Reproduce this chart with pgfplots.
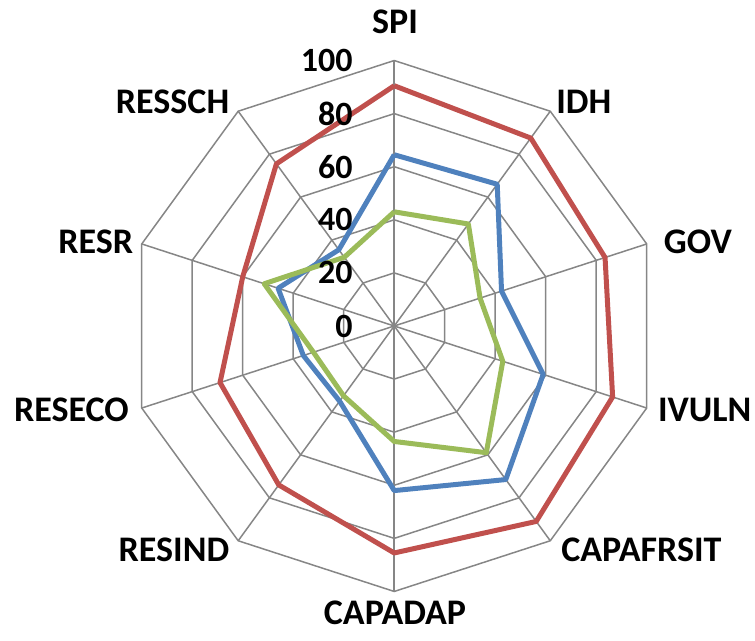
\documentclass[border=0pt]{standalone}
\usepackage{fontspec}
\setmainfont{Carlito}
\usepackage{pgfplots}
\pgfplotsset{compat=1.18}
\definecolor{serA}{HTML}{4F81BD}
\definecolor{serB}{HTML}{C0504D}
\definecolor{serC}{HTML}{9BBB59}
\definecolor{gridc}{HTML}{868686}
\begin{document}
\begin{tikzpicture}
\begin{axis}[name=ax, x=2.655bp, y=2.655bp, xmin=-148.5, xmax=135.9, ymin=-118.6, ymax=122.8,
  hide axis, clip=false, scale only axis]
% rings
\addplot[gridc, line width=1.5bp, data cs=polar] coordinates {(90,20)(54,20)(18,20)(-18,20)(-54,20)(-90,20)(-126,20)(-162,20)(162,20)(126,20)(90,20)};
\addplot[gridc, line width=1.5bp, data cs=polar] coordinates {(90,40)(54,40)(18,40)(-18,40)(-54,40)(-90,40)(-126,40)(-162,40)(162,40)(126,40)(90,40)};
\addplot[gridc, line width=1.5bp, data cs=polar] coordinates {(90,60)(54,60)(18,60)(-18,60)(-54,60)(-90,60)(-126,60)(-162,60)(162,60)(126,60)(90,60)};
\addplot[gridc, line width=1.5bp, data cs=polar] coordinates {(90,80)(54,80)(18,80)(-18,80)(-54,80)(-90,80)(-126,80)(-162,80)(162,80)(126,80)(90,80)};
\addplot[gridc, line width=1.5bp, data cs=polar] coordinates {(90,100)(54,100)(18,100)(-18,100)(-54,100)(-90,100)(-126,100)(-162,100)(162,100)(126,100)(90,100)};
% spokes
\addplot[gridc, line width=1.5bp, data cs=polar] coordinates {(90,100)(270,100)};
\addplot[gridc, line width=1.5bp, data cs=polar] coordinates {(54,100)(234,100)};
\addplot[gridc, line width=1.5bp, data cs=polar] coordinates {(18,100)(198,100)};
\addplot[gridc, line width=1.5bp, data cs=polar] coordinates {(-18,100)(162,100)};
\addplot[gridc, line width=1.5bp, data cs=polar] coordinates {(-54,100)(126,100)};
% series
\addplot[serA, line width=5bp, line join=round, data cs=polar] coordinates {(90,64.5)(54,66)(18,42.5)(-18,59)(-54,71.5)(-90,62)(-126,35)(-162,36)(162,46)(126,35.5)(90,64.5)};
\addplot[serB, line width=5bp, line join=round, data cs=polar] coordinates {(90,90.5)(54,87.5)(18,83.5)(-18,86.5)(-54,91)(-90,85.5)(-126,74)(-162,69)(162,60)(126,75.5)(90,90.5)};
\addplot[serC, line width=5bp, line join=round, data cs=polar] coordinates {(90,43)(54,47.5)(18,34)(-18,43)(-54,59)(-90,43.5)(-126,32.5)(-162,32)(162,51.5)(126,32)(90,43)};
% tick labels
\begin{scope}[every node/.style={font=\fontsize{34bp}{38bp}\selectfont\bfseries, inner sep=0pt, anchor=east}]
\node at (axis cs:-15.6,0) {0};
\node at (axis cs:-15.6,20) {20};
\node at (axis cs:-15.6,40) {40};
\node at (axis cs:-15.6,60) {60};
\node at (axis cs:-15.6,80) {80};
\node at (axis cs:-15.6,100) {100};
\end{scope}
% category labels
\begin{scope}[every node/.style={font=\fontsize{36bp}{40bp}\selectfont\bfseries, inner sep=0pt, anchor=center}]
\node at (axis cs:0.3,114.5) {SPI};
\node at (axis cs:71.4,84.5) {IDH};
\node at (axis cs:114.4,31.6) {GOV};
\node[anchor=west] at (axis cs:99.3,-31.6) {IVULN};
\node at (axis cs:93.1,-84.4) {CAPAFRSIT};
\node at (axis cs:0.3,-108.1) {CAPADAP};
\node at (axis cs:-83.0,-84.4) {RESIND};
\node at (axis cs:-121.6,-31.6) {RESECO};
\node at (axis cs:-112.4,31.6) {RESR};
\node at (axis cs:-83.5,84.5) {RESSCH};
\end{scope}
\end{axis}
\pgfresetboundingbox
\path (ax.south west) rectangle (ax.north east);
\end{tikzpicture}
\end{document}
